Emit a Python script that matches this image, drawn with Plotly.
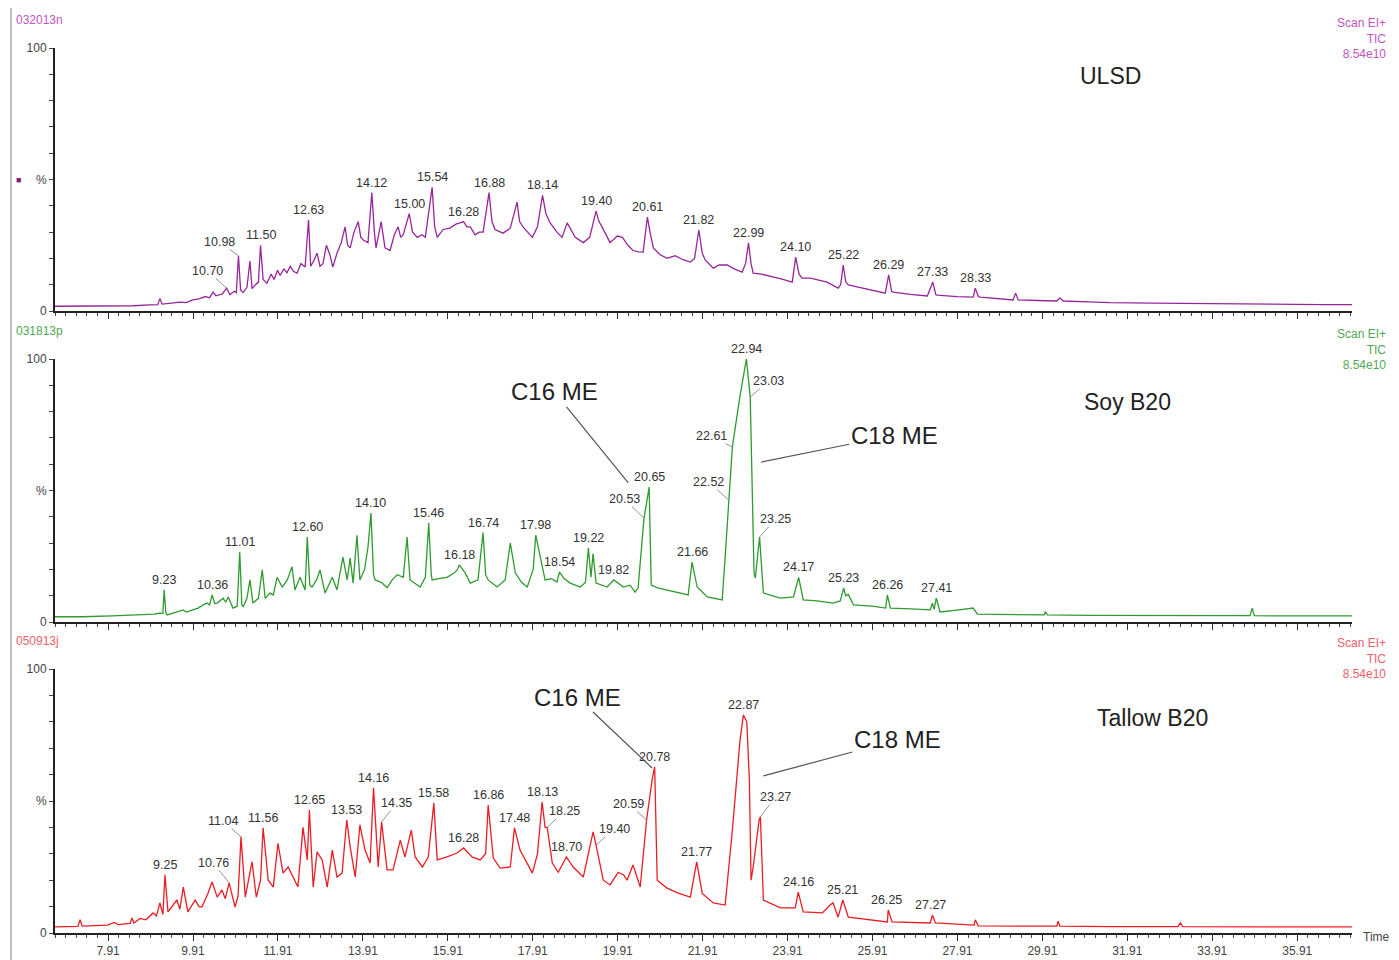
import plotly.graph_objects as go

# ---------------- data (retention time in min, relative abundance %) ----------------
ULSD_T = [6.66, 7.5, 8.0, 8.5, 8.9, 9.08, 9.13, 9.18, 9.4, 9.6, 9.75, 9.9, 10.05, 10.2, 10.3, 10.38, 10.45, 10.6,
          10.70, 10.78, 10.88, 10.93, 10.98, 11.03, 11.09, 11.18, 11.25, 11.30, 11.38, 11.45, 11.50, 11.56, 11.65,
          11.75, 11.82, 11.90, 11.96, 12.05, 12.12, 12.2, 12.28, 12.36, 12.45, 12.55, 12.63, 12.68, 12.75, 12.83,
          12.9, 12.97, 13.05, 13.14, 13.2, 13.3, 13.4, 13.49, 13.55, 13.61, 13.7, 13.80, 13.86, 13.92, 14.03, 14.12,
          14.18, 14.22, 14.34, 14.40, 14.43, 14.55, 14.65, 14.74, 14.80, 14.86, 15.00, 15.08, 15.19, 15.30, 15.38,
          15.54, 15.60, 15.66, 15.80, 15.96, 16.10, 16.20, 16.28, 16.36, 16.44, 16.55, 16.65, 16.74, 16.80, 16.88,
          16.95, 17.02, 17.21, 17.38, 17.54, 17.60, 17.68, 17.90, 18.02, 18.14, 18.22, 18.32, 18.48, 18.60, 18.72,
          18.80, 18.91, 19.10, 19.25, 19.40, 19.47, 19.54, 19.73, 19.90, 20.02, 20.15, 20.27, 20.40, 20.51, 20.55,
          20.61, 20.67, 20.75, 20.9, 21.07, 21.26, 21.45, 21.62, 21.72, 21.82, 21.90, 21.97, 22.16, 22.3, 22.49,
          22.65, 22.84, 22.92, 22.99, 23.05, 23.10, 23.3, 23.57, 23.8, 24.02, 24.10, 24.18, 24.25, 24.45, 24.61,
          24.84, 25.10, 25.16, 25.22, 25.28, 25.34, 25.6, 25.86, 26.21, 26.29, 26.36, 26.40, 26.8, 27.20, 27.33,
          27.40, 27.43, 27.9, 28.28, 28.33, 28.40, 28.45, 28.9, 29.22, 29.28, 29.34, 29.8, 30.25, 30.32, 30.40,
          31.0, 31.5, 32.5, 33.5, 34.5, 35.5, 36.5, 37.2]
ULSD_Y = [1.8, 1.8, 1.9, 2.0, 2.3, 2.4, 4.8, 2.6, 3.0, 3.4, 3.2, 4.2, 4.6, 5.5, 5.0, 7.2, 5.8, 6.5,
          8.7, 6.2, 7.5, 7.0, 21, 8.0, 7.0, 9, 19, 8.5, 10, 11, 25, 12, 10.6,
          14, 12, 15.5, 13.5, 16, 14.5, 17, 15, 14.4, 18, 16.7, 34.6, 17, 19, 22,
          17, 18, 25, 21, 16.7, 22, 26, 32, 25, 24, 30, 34, 28, 27, 26, 45,
          30, 24, 34, 26, 24, 23, 29, 32, 28, 29, 37, 30, 28, 29, 28,
          47, 32, 28, 31, 31.5, 33, 33.5, 34, 32, 32, 29, 30, 30, 36, 45,
          34, 31, 29.6, 31.5, 41.4, 34, 32, 28, 32, 44, 37, 33.5, 30, 28, 33.5,
          31, 28, 26, 28, 38, 34, 32, 26, 28.5, 28, 25, 23, 22.5, 22.4, 28,
          35.7, 30, 24, 21.5, 20, 21, 19.5, 18.6, 20, 30.8, 22, 19.4, 16.3, 17.5, 17.5,
          16, 14.8, 18, 25.9, 18, 14.4, 14, 13, 12, 11, 20.5, 14, 12.5, 12.5, 11.8,
          11, 8.7, 10, 17.5, 11, 9.9, 9, 8, 6.8, 13.7, 7.5, 7.2, 6.3, 5.7, 11,
          6.2, 6, 5.5, 5.3, 8.7, 5.5, 5.3, 4.8, 4.2, 6.8, 4.2, 4.0, 3.8, 5.0, 3.8,
          3.5, 3.2, 3.0, 2.8, 2.6, 2.5, 2.4, 2.4]

SOY_T = [6.66, 7.3, 8.0, 8.66, 9.0, 9.13, 9.20, 9.23, 9.27, 9.30, 9.5, 9.68, 9.75, 10.03, 10.15, 10.24, 10.30,
         10.36, 10.42, 10.48, 10.62, 10.68, 10.74, 10.85, 10.95, 11.01, 11.06, 11.09, 11.18, 11.25, 11.32, 11.45,
         11.54, 11.61, 11.72, 11.80, 11.89, 12.01, 12.13, 12.24, 12.31, 12.43, 12.55, 12.60, 12.66, 12.71, 12.82,
         12.90, 13.02, 13.10, 13.19, 13.30, 13.44, 13.54, 13.61, 13.68, 13.77, 13.84, 13.95, 14.03, 14.10, 14.16,
         14.20, 14.35, 14.48, 14.60, 14.72, 14.86, 14.95, 15.02, 15.15, 15.26, 15.38, 15.46, 15.52, 15.54, 15.70,
         15.89, 16.05, 16.13, 16.18, 16.32, 16.44, 16.62, 16.74, 16.80, 16.86, 17.07, 17.26, 17.38, 17.50, 17.65,
         17.78, 17.92, 17.98, 18.08, 18.20, 18.35, 18.48, 18.54, 18.65, 18.79, 19.03, 19.15, 19.22, 19.28, 19.33,
         19.40, 19.66, 19.82, 20.04, 20.20, 20.32, 20.39, 20.53, 20.65, 20.70, 20.85, 21.07, 21.30, 21.57, 21.66,
         21.78, 22.02, 22.20, 22.37, 22.44, 22.52, 22.61, 22.78, 22.94, 23.03, 23.08, 23.12, 23.15, 23.25, 23.34,
         23.55, 23.74, 24.05, 24.17, 24.28, 24.6, 24.98, 25.15, 25.23, 25.28, 25.34, 25.46, 25.9, 26.22, 26.26,
         26.33, 26.8, 27.27, 27.32, 27.36, 27.41, 27.50, 27.9, 28.28, 28.38, 29.0, 29.39, 29.95, 29.98, 30.03,
         31.0, 32.0, 33.0, 34.8, 34.85, 34.9, 36.0, 37.2]
SOY_Y = [2.0, 2.0, 2.3, 2.7, 3.0, 3.4, 3.2, 12.2, 3.5, 2.7, 3.8, 4.6, 3.8, 5.3, 6.5, 7.2, 6.5,
         10.3, 7.0, 7.2, 9.0, 7.5, 9.5, 5.3, 6.0, 26.6, 6.5, 5.7, 9, 16, 7.2, 9,
         19.8, 9.0, 11, 10.3, 17, 13.3, 16, 21, 12.2, 17, 12.2, 32.3, 14, 13.3, 16,
         19.8, 11, 14, 17, 12.2, 24.7, 16, 24.3, 14.8, 33, 16, 20, 28.5, 41.4, 18,
         16, 15, 13, 16, 18, 17, 32.3, 16, 14.5, 13.3, 17, 37.6, 18, 16, 16.5,
         17, 18.5, 19.8, 21.7, 18.6, 14.8, 16, 34, 18, 16, 13.3, 16, 30, 18.6, 15,
         13.3, 20, 33, 24.7, 16, 16.5, 15.2, 19, 16.5, 14.8, 13.3, 15, 28.1, 17, 26,
         14.8, 13.3, 16, 13.3, 14, 11.4, 13, 39.5, 51.3, 14, 13, 12.2, 11.5, 10.3, 22.8,
         13.3, 9.5, 8.8, 8.4, 24.7, 46.4, 66.5, 85, 100, 85.5, 50, 18.6, 16.7, 32.3, 11,
         10, 9.1, 9.5, 17, 8.4, 8, 7.2, 8, 12.9, 10, 10.5, 6.5, 6, 5.3, 10.3,
         5.3, 5, 4.6, 7.2, 4.8, 9.1, 3.8, 4.5, 5.3, 3, 2.9, 2.7, 2.7, 3.8, 2.7,
         2.5, 2.5, 2.4, 2.4, 5.3, 2.4, 2.3, 2.3]

TALLOW_T = [6.66, 7.0, 7.20, 7.25, 7.30, 7.6, 7.9, 8.05, 8.15, 8.43, 8.47, 8.52, 8.66, 8.80, 8.97, 9.05, 9.13,
            9.20, 9.25, 9.32, 9.42, 9.53, 9.60, 9.68, 9.79, 9.96, 10.05, 10.12, 10.26, 10.36, 10.48, 10.59, 10.67,
            10.76, 10.90, 10.97, 11.04, 11.14, 11.30, 11.40, 11.50, 11.56, 11.68, 11.80, 11.91, 12.03, 12.15, 12.27,
            12.38, 12.50, 12.60, 12.65, 12.74, 12.83, 12.95, 13.07, 13.19, 13.30, 13.42, 13.53, 13.61, 13.73, 13.84,
            13.96, 14.08, 14.16, 14.27, 14.35, 14.48, 14.62, 14.79, 14.90, 15.05, 15.14, 15.31, 15.45, 15.58, 15.66,
            15.89, 16.13, 16.28, 16.48, 16.67, 16.80, 16.86, 16.98, 17.14, 17.38, 17.48, 17.61, 17.90, 18.02, 18.13,
            18.20, 18.25, 18.37, 18.51, 18.70, 18.86, 19.10, 19.33, 19.40, 19.50, 19.57, 19.73, 19.92, 20.05, 20.13,
            20.27, 20.44, 20.59, 20.72, 20.78, 20.84, 21.07, 21.35, 21.62, 21.77, 21.90, 22.16, 22.44, 22.61, 22.79,
            22.87, 22.95, 23.01, 23.05, 23.10, 23.24, 23.27, 23.34, 23.74, 24.09, 24.16, 24.28, 24.73, 24.91, 24.98,
            25.10, 25.21, 25.34, 25.8, 26.26, 26.28, 26.37, 27.27, 27.32, 27.39, 28.30, 28.33, 28.40, 29.39, 30.25,
            30.28, 30.32, 31.5, 33.1, 33.16, 33.22, 35.0, 37.2]
TALLOW_Y = [2.3, 2.3, 2.5, 5.0, 2.6, 2.8, 3.0, 4.0, 3.2, 3.6, 5.7, 3.8, 5.5, 5.0, 7.6, 6.5, 11.4,
            7, 22, 8, 10, 12.5, 9, 17.4, 8, 12.5, 10, 9.8, 15, 19.3, 13.6, 16.3, 13,
            19, 9.8, 14, 36.4, 13.6, 27, 13.6, 20, 39.8, 20, 17.4, 34, 22.7, 25, 20.8,
            17.4, 40, 27.7, 46.6, 17.4, 30.7, 27.7, 17.4, 31.4, 21.2, 22.7, 42.8, 32.6, 21.2, 41,
            31.4, 26.5, 55, 25, 42, 23.9, 23.9, 35.2, 28.8, 39, 28.8, 25, 28.8, 49.2, 27.7,
            28.8, 30.3, 32.2, 28.8, 27.7, 30, 48.5, 28.4, 24.6, 25, 39.8, 31.4, 22.7, 30, 49.6,
            40, 40, 26.5, 23, 28.8, 25, 21.2, 38.3, 33.3, 25, 20, 18.2, 23, 22, 20,
            25.8, 17.4, 42.8, 58, 62.9, 20, 17, 15, 13.6, 26.9, 15, 11.4, 10.6, 39, 73,
            82.6, 80, 58, 20, 25, 42.8, 44, 12.5, 9.5, 9.5, 15.5, 8, 7.6, 10.6, 11.4,
            6, 12.5, 6, 5, 4.2, 8.7, 4.2, 3.8, 6.8, 3.8, 3.0, 5.0, 2.7, 2.6, 2.6,
            4.5, 2.6, 2.4, 2.4, 3.8, 2.4, 2.3, 2.3]

# labelled peaks (label text = retention time)
ULSD_PEAK_T = [10.70, 10.98, 11.50, 12.63, 14.12, 15.00, 15.54, 16.28, 16.88, 18.14, 19.40, 20.61, 21.82,
               22.99, 24.10, 25.22, 26.29, 27.33, 28.33]
ULSD_PEAK_Y = [8.7, 21, 25, 34.6, 45, 37, 47, 34, 45, 44, 38, 35.7, 30.8, 25.9, 20.5, 17.5, 13.7, 11, 8.7]

SOY_PEAK_T = [9.23, 10.36, 11.01, 12.60, 14.10, 15.46, 16.18, 16.74, 17.98, 18.54, 19.22, 19.82, 20.53, 20.65,
              21.66, 22.52, 22.61, 22.94, 23.03, 23.25, 24.17, 25.23, 26.26, 27.41]
SOY_PEAK_Y = [12.2, 10.3, 26.6, 32.3, 41.4, 37.6, 21.7, 34, 33, 19, 28.1, 16, 39.5, 51.3, 22.8, 46.4, 66.5,
              100, 85.5, 32.3, 17, 12.9, 10.3, 9.1]

TALLOW_PEAK_T = [9.25, 10.76, 11.04, 11.56, 12.65, 13.53, 14.16, 14.35, 15.58, 16.28, 16.86, 17.48, 18.13, 18.25,
                 18.70, 19.40, 20.59, 20.78, 21.77, 22.87, 23.27, 24.16, 25.21, 26.25, 27.27]
TALLOW_PEAK_Y = [22, 19, 36.4, 39.8, 46.6, 42.8, 55, 42, 49.2, 32.2, 48.5, 39.8, 49.6, 40, 28.8, 33.3, 42.8,
                 62.9, 26.9, 82.6, 44, 15.5, 12.5, 8.7, 6.8]

SAMPLE_IDS = ["032013n", "031813p", "050913j"]
SAMPLE_NAMES = ["ULSD", "Soy B20", "Tallow B20"]
X_TICK0, X_DTICK = 7.91, 2

# ---------------- styling ----------------
FONT = "Liberation Sans, Arial, sans-serif"
TRACE_COLORS = ["#96279a", "#2f9a2f", "#ec1c24"]
HEADER_COLORS = ["#c255c2", "#52a852", "#f0606a"]
OFF = 8                      # default page margin around the figure
W, H = 1391, 952
ML, MR, MT, MB = 47, 47, 40, 27
PW, PH = W - ML - MR, H - MT - MB
X_RANGE = [6.66, 37.2]


def px(xp):                  # page pixel -> paper x
    return (xp - OFF - ML) / PW


def py(yp):                  # page pixel -> paper y
    return (H - MB - (yp - OFF)) / PH


# label offsets (leader lines) in pixels: (ax, ay)
OFFSETS = [
    {10.70: (-19, -17), 10.98: (-19, -14)},
    {20.53: (-20, -19), 22.52: (-20, -18), 22.61: (-21, -11), 23.03: (18, -16), 23.25: (16, -18)},
    {10.76: (-16, -20), 11.04: (-18, -16), 14.35: (15, -19), 18.25: (17, -16), 19.40: (18, -16),
     20.59: (-18, -16), 23.27: (15, -20)},
]

panels = [(ULSD_T, ULSD_Y, ULSD_PEAK_T, ULSD_PEAK_Y),
          (SOY_T, SOY_Y, SOY_PEAK_T, SOY_PEAK_Y),
          (TALLOW_T, TALLOW_Y, TALLOW_PEAK_T, TALLOW_PEAK_Y)]

# page-pixel rows of each panel (100 % line, 0 % line)
PANEL_PX = [(48, 311), (359, 622), (669, 933)]

fig = go.Figure()
annotations = []
layout_axes = {}

for i, (tt, yy, pt, pyv) in enumerate(panels):
    sfx = "" if i == 0 else str(i + 1)
    xa, ya = "x" + sfx, "y" + sfx
    fig.add_trace(go.Scatter(x=tt, y=yy, mode="lines", xaxis=xa, yaxis=ya,
                             line=dict(color=TRACE_COLORS[i], width=1.3), hoverinfo="skip"))
    top, bot = PANEL_PX[i]
    layout_axes["xaxis" + sfx] = dict(
        domain=[0, 1], anchor=ya, range=X_RANGE, showgrid=False, zeroline=False, automargin=False,
        showline=True, linecolor="#222", linewidth=2,
        ticks="outside", ticklen=6, tickwidth=1, tickcolor="#333",
        tick0=X_TICK0, dtick=X_DTICK, tickformat=".2f",
        showticklabels=(i == 2), tickfont=dict(family=FONT, size=12, color="#444"),
        minor=dict(ticks="outside", ticklen=3, tick0=X_TICK0, dtick=0.25, tickcolor="#444", tickwidth=1),
    )
    layout_axes["yaxis" + sfx] = dict(
        domain=[py(bot), py(top)], anchor=xa, range=[0, 100], showgrid=False, zeroline=False,
        automargin=False, showline=True, linecolor="#222", linewidth=2,
        ticks="outside", ticklen=4, tickcolor="#444",
        tickmode="array", tickvals=list(range(0, 101, 10)),
        ticktext=["0", "", "", "", "", "%", "", "", "", "", "100"],
        tickfont=dict(family=FONT, size=12, color="#444"),
    )
    # peak labels
    for t, v in zip(pt, pyv):
        txt = f"{t:.2f}"
        off = OFFSETS[i].get(t)
        if off:
            annotations.append(dict(x=t, y=v, xref=xa, yref=ya, text=txt, showarrow=True,
                                    arrowhead=0, arrowwidth=0.8, arrowcolor="#777", ax=off[0], ay=off[1],
                                    standoff=0, borderpad=0,
                                    font=dict(family=FONT, size=12.5, color="#333")))
        else:
            annotations.append(dict(x=t, y=v, xref=xa, yref=ya, text=txt, showarrow=False,
                                    xanchor="center", yanchor="bottom", yshift=1,
                                    font=dict(family=FONT, size=12.5, color="#333")))
    # header texts
    head_y = top - 28
    annotations.append(dict(x=px(14), y=py(head_y), xref="paper", yref="paper", text=SAMPLE_IDS[i],
                            showarrow=False, xanchor="left", yanchor="middle",
                            font=dict(family=FONT, size=12, color=HEADER_COLORS[i])))
    annotations.append(dict(x=px(1388), y=py(head_y + 18), xref="paper", yref="paper",
                            text="Scan EI+<br>TIC<br>8.54e10", align="right",
                            showarrow=False, xanchor="right", yanchor="middle",
                            font=dict(family=FONT, size=12, color=HEADER_COLORS[i])))

# sample names
for name, (xp_, yp_) in zip(SAMPLE_NAMES, [(1110, 76), (1127, 402), (1152, 718)]):
    annotations.append(dict(x=px(xp_), y=py(yp_), xref="paper", yref="paper", text=name, showarrow=False,
                            xanchor="center", yanchor="middle",
                            font=dict(family=FONT, size=23, color="#222")))

# methyl ester callouts
CALLOUTS = [("C16 ME", "x2", "y2", 20.16, 52.9, -74, -91),
            ("C18 ME", "x2", "y2", 23.29, 60.8, 133, -27),
            ("C16 ME", "x3", "y3", 20.72, 62.5, -75, -71),
            ("C18 ME", "x3", "y3", 23.34, 59.5, 134, -36)]
for txt, xa, ya, t, v, ax, ay in CALLOUTS:
    annotations.append(dict(x=t, y=v, xref=xa, yref=ya, text=txt, showarrow=True, arrowhead=0,
                            arrowwidth=1.2, arrowcolor="#555", ax=ax, ay=ay, standoff=0, borderpad=1,
                            font=dict(family=FONT, size=24, color="#222")))

annotations.append(dict(x=px(1376), y=py(937), xref="paper", yref="paper", text="Time", showarrow=False,
                        xanchor="center", yanchor="middle",
                        font=dict(family=FONT, size=12, color="#444")))
annotations.append(dict(x=px(18), y=py(180), xref="paper", yref="paper", text="■", showarrow=False,
                        xanchor="center", yanchor="middle",
                        font=dict(family=FONT, size=9, color="#7a1f7a")))

fig.update_layout(
    width=W, height=H, margin=dict(l=ML, r=MR, t=MT, b=MB, autoexpand=False),
    paper_bgcolor="white", plot_bgcolor="white", showlegend=False,
    annotations=annotations,
    shapes=[dict(type="line", xref="paper", yref="paper", x0=px(11), x1=px(11), y0=py(960), y1=py(8),
                 line=dict(color="#a8a8a8", width=1.5))],
    **layout_axes,
)

fig.write_html("out.html")
